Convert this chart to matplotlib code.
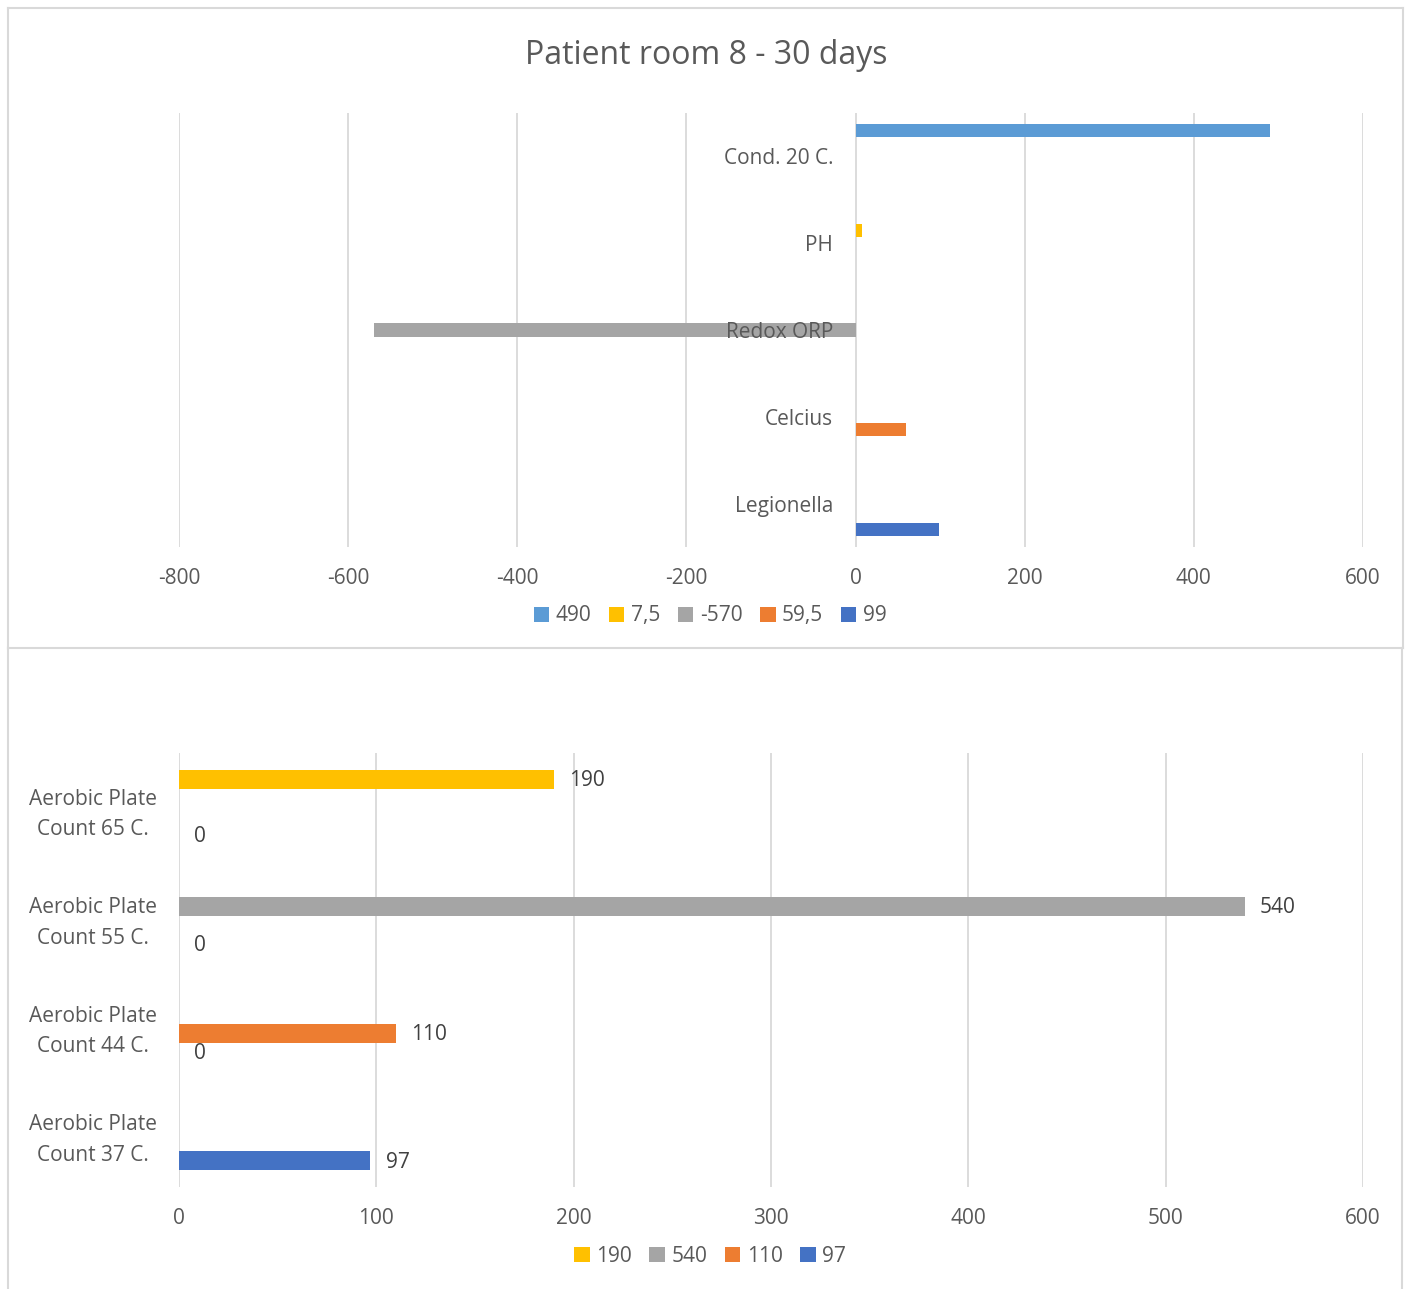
import numpy as np
import matplotlib
matplotlib.use("Agg")
import matplotlib.pyplot as plt
from matplotlib.lines import Line2D

plt.rcParams['font.family'] = ['Open Sans', 'DejaVu Sans']

# top chart data
top_categories = ['Cond. 20 C.', 'PH', 'Redox ORP', 'Celcius', 'Legionella']
top_series = ['490', '7,5', '-570', '59,5', '99']
top_490 = [490, np.nan, np.nan, np.nan, np.nan]
top_75 = [np.nan, 7.5, np.nan, np.nan, np.nan]
top_m570 = [np.nan, np.nan, -570, np.nan, np.nan]
top_595 = [np.nan, np.nan, np.nan, 59.5, np.nan]
top_99 = [np.nan, np.nan, np.nan, np.nan, 99]
top_ticks = [-800, -600, -400, -200, 0, 200, 400, 600]

# bottom chart data
bot_categories = ['Aerobic Plate\nCount 65 C.', 'Aerobic Plate\nCount 55 C.',
                  'Aerobic Plate\nCount 44 C.', 'Aerobic Plate\nCount 37 C.']
bot_series = ['190', '540', '110', '97']
bot_190 = [190, np.nan, np.nan, np.nan]
bot_540 = [np.nan, 540, np.nan, np.nan]
bot_110 = [np.nan, np.nan, 110, np.nan]
bot_97 = [0, 0, 0, 97]
bot_ticks = [0, 100, 200, 300, 400, 500, 600]

TEXT = '#595959'
GRID = '#D9D9D9'
LBL = '#404040'
FS = 15

W, H = 1408, 1289
fig = plt.figure(figsize=(W / 100, H / 100), dpi=100)


def fx(px):
    return px / W


def fy(py):
    return 1 - py / H


# chart borders
for (x0, y0, x1, y1) in [(8, 8, 1403, 8), (8, 8, 8, 648), (1403, 8, 1403, 648),
                         (8, 648, 1403, 648), (8, 648, 8, 1289), (1402, 648, 1402, 1289)]:
    fig.add_artist(Line2D([fx(x0), fx(x1)], [fy(y0), fy(y1)], color=GRID, lw=1.5))

fig.text(fx(706), fy(56), 'Patient room 8 - 30 days', ha='center', va='center',
         fontsize=23, color=TEXT)


def style_axes(ax, ticks, xlim, ncat):
    ax.set_xlim(*xlim)
    ax.set_ylim(ncat - 0.5, -0.5)
    for t in ticks:
        ax.axvline(t, color=GRID, lw=1.3, zorder=0)
    for s in ax.spines.values():
        s.set_visible(False)
    ax.set_xticks(ticks)
    ax.set_xticklabels([str(t) for t in ticks])
    ax.tick_params(axis='x', length=0, pad=15, labelsize=FS, labelcolor=TEXT)
    ax.tick_params(axis='y', length=0, pad=16, labelsize=FS, labelcolor=TEXT)


def add_legend(ax, ncol, ypx):
    ax.legend(loc='center', bbox_to_anchor=(fx(710), fy(ypx)), bbox_transform=fig.transFigure,
              ncol=ncol, frameon=False, fontsize=FS, labelcolor=TEXT, handlelength=0.75,
              handleheight=0.75, handletextpad=0.3, columnspacing=0.85, borderpad=0)


# top chart
ax1 = fig.add_axes([fx(179), fy(547), fx(1363) - fx(179), fy(113) - fy(547)])
top_vals = [top_490, top_75, top_m570, top_595, top_99]
top_colors = ['#5B9BD5', '#FFC000', '#A5A5A5', '#ED7D31', '#4472C4']
ypos = np.arange(len(top_categories))
h1 = 0.15
for i, (vals, name, col) in enumerate(zip(top_vals, top_series, top_colors)):
    ax1.barh(ypos + (i - 2) * h1, np.nan_to_num(vals), height=h1, color=col,
             label=name, zorder=1)
style_axes(ax1, top_ticks, (-800, 600), len(top_categories))
ax1.spines['left'].set_position(('data', 0))
ax1.set_yticks(ypos)
ax1.set_yticklabels(top_categories)
add_legend(ax1, 5, 616)

# bottom chart
ax2 = fig.add_axes([fx(179), fy(1187), fx(1363) - fx(179), fy(753) - fy(1187)])
bot_vals = [bot_190, bot_540, bot_110, bot_97]
bot_colors = ['#FFC000', '#A5A5A5', '#ED7D31', '#4472C4']
ypos2 = np.arange(len(bot_categories))
h2 = 0.172
for i, (vals, name, col) in enumerate(zip(bot_vals, bot_series, bot_colors)):
    yy = ypos2 + (i - 1.5) * h2
    ax2.barh(yy, np.nan_to_num(vals), height=h2, color=col, label=name, zorder=1)
    for y, v in zip(yy, vals):
        if not np.isnan(v):
            ax2.annotate(f'{v:g}', (v, y), xytext=(11, -1), textcoords='offset points',
                         ha='left', va='center', fontsize=FS, color=LBL)
style_axes(ax2, bot_ticks, (0, 600), len(bot_categories))
ax2.set_yticks(ypos2)
ax2.set_yticklabels(bot_categories, linespacing=1.6)
for lab in ax2.get_yticklabels():
    lab.set_multialignment('center')
add_legend(ax2, 4, 1256)

fig.savefig('out.png', dpi=100, facecolor='white')
